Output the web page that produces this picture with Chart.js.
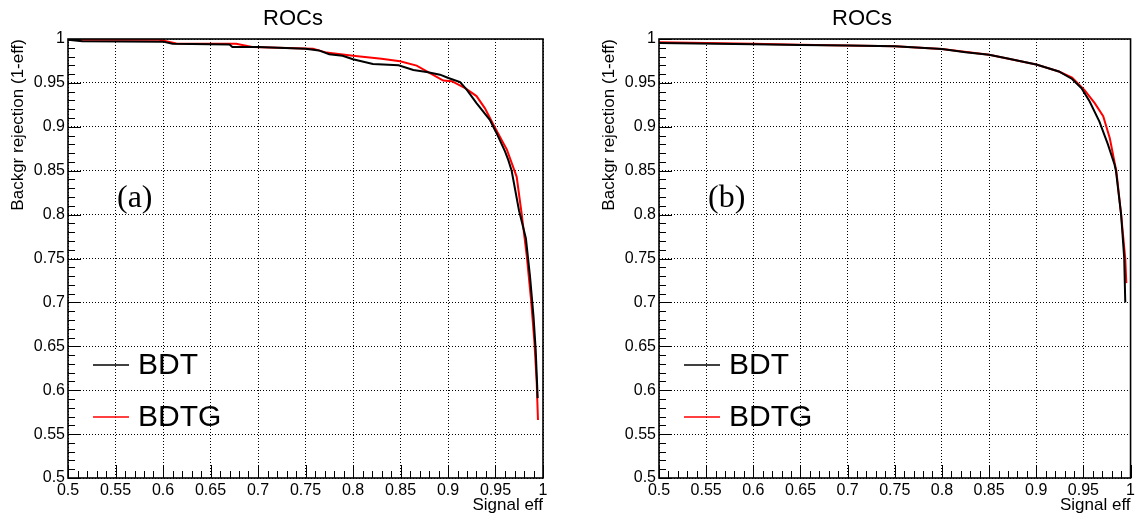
<!DOCTYPE html>
<html>
<head>
<meta charset="utf-8">
<script src="https://cdn.jsdelivr.net/npm/chart.js@4.4.1/dist/chart.umd.min.js"></script>
<style>
  body { margin: 0; background: #fff; }
  canvas { position: absolute; top: 0; }
</style>
</head>
<body>
<canvas id="rocA" width="569" height="519" style="left:0px"></canvas>
<canvas id="rocB" width="569" height="519" style="left:569px"></canvas>
<script>
// panel (a)
const effBdtA = [0.500, 0.515, 0.600, 0.610, 0.670, 0.673, 0.700, 0.750, 0.764, 0.775, 0.789, 0.800, 0.821, 0.848, 0.8635, 0.8776, 0.8916, 0.9004, 0.9127, 0.9197, 0.930, 0.944, 0.951, 0.960, 0.9635, 0.967, 0.9747, 0.982, 0.9863, 0.990, 0.9923, 0.9944];
const rejBdtA = [0.9992, 0.9975, 0.997, 0.9945, 0.9938, 0.991, 0.991, 0.989, 0.987, 0.9826, 0.981, 0.977, 0.9716, 0.970, 0.9647, 0.9624, 0.9594, 0.9556, 0.951, 0.9424, 0.927, 0.908, 0.893, 0.872, 0.862, 0.850, 0.805, 0.773, 0.730, 0.684, 0.646, 0.591];
const effBdtgA = [0.500, 0.596, 0.614, 0.677, 0.694, 0.758, 0.772, 0.800, 0.830, 0.8495, 0.867, 0.881, 0.895, 0.904, 0.918, 0.930, 0.9389, 0.9477, 0.958, 0.962, 0.967, 0.9723, 0.9775, 0.983, 0.9874, 0.991, 0.9934, 0.9947];
const rejBdtgA = [0.9992, 0.9992, 0.995, 0.9945, 0.991, 0.989, 0.9845, 0.981, 0.9775, 0.9746, 0.9697, 0.961, 0.9526, 0.952, 0.944, 0.935, 0.921, 0.9026, 0.8818, 0.874, 0.859, 0.843, 0.801, 0.752, 0.703, 0.654, 0.608, 0.566];

// panel (b)
const effBdtB = [0.500, 0.600, 0.650, 0.700, 0.750, 0.800, 0.825, 0.850, 0.871, 0.900, 0.924, 0.938, 0.948, 0.9565, 0.967, 0.976, 0.983, 0.9845, 0.990, 0.9933, 0.9944];
const rejBdtB = [0.9955, 0.994, 0.9932, 0.9925, 0.9917, 0.9886, 0.985, 0.982, 0.9776, 0.971, 0.963, 0.9545, 0.944, 0.929, 0.906, 0.880, 0.857, 0.850, 0.800, 0.750, 0.700];
const effBdtgB = [0.500, 0.600, 0.650, 0.700, 0.750, 0.800, 0.850, 0.900, 0.924, 0.938, 0.951, 0.962, 0.971, 0.978, 0.9835, 0.9849, 0.990, 0.9944, 0.9955];
const rejBdtgB = [0.9962, 0.9945, 0.9935, 0.9925, 0.9917, 0.9886, 0.982, 0.971, 0.963, 0.956, 0.942, 0.927, 0.912, 0.887, 0.857, 0.850, 0.800, 0.750, 0.722];

const seriesNames = ["BDT", "BDTG"];
const seriesColors = ["#000000", "#ff0000"];
const axisMin = 0.5, axisMax = 1.0, axisStep = 0.05;
const titleText = "ROCs";
const xTitle = "Signal eff";
const yTitle = "Backgr rejection (1-eff)";

function pairs(xs, ys) {
  return xs.map((v, i) => ({ x: v, y: ys[i] }));
}

function fmt(v) {
  return String(Number(v.toFixed(2)));
}

// ROOT-like frame, inward ticks, legend and panel tag
const rootDeco = {
  id: "rootDeco",
  afterDatasetsDraw(chart, args, o) {
    const ctx = chart.ctx;
    const a = chart.chartArea;
    const xs = chart.scales.x, ys = chart.scales.y;
    ctx.save();
    ctx.strokeStyle = "#000";
    ctx.lineWidth = 1;
    for (let i = 0; i <= 50; i++) {
      const v = axisMin + i * 0.01;
      const len = i % 5 === 0 ? 13 : 7;
      const px = Math.round(xs.getPixelForValue(v)) + 0.5;
      ctx.beginPath(); ctx.moveTo(px, a.bottom); ctx.lineTo(px, a.bottom - len); ctx.stroke();
      const py = Math.round(ys.getPixelForValue(v)) + 0.5;
      ctx.beginPath(); ctx.moveTo(a.left, py); ctx.lineTo(a.left + len, py); ctx.stroke();
    }
    ctx.lineWidth = 1.6;
    ctx.strokeRect(a.left, a.top, a.right - a.left, a.bottom - a.top);

    // legend
    ctx.font = "30px 'Liberation Sans', Arial, sans-serif";
    ctx.textBaseline = "middle";
    ctx.textAlign = "left";
    chart.data.datasets.forEach((ds, i) => {
      const yy = a.top + o.legendTop + i * o.legendGap;
      ctx.strokeStyle = ds.borderColor;
      ctx.lineWidth = 1.5;
      ctx.beginPath(); ctx.moveTo(a.left + 25, yy); ctx.lineTo(a.left + 61, yy); ctx.stroke();
      ctx.fillStyle = "#000";
      ctx.fillText(ds.label, a.left + 70, yy + 1);
    });

    // panel tag
    ctx.font = "32px 'Liberation Serif', 'Times New Roman', serif";
    ctx.fillText(o.tag, a.left + 49, a.top + 160);

    // title
    ctx.font = "22px 'Liberation Sans', Arial, sans-serif";
    ctx.textAlign = "center";
    ctx.fillText(titleText, o.titleX, 19);
    ctx.restore();
  }
};

function makeRoc(id, effs, rejs, tag, padLeft, padRight, titleX) {
  const data = {
    datasets: seriesNames.map((name, i) => ({
      label: name,
      data: pairs(effs[i], rejs[i]),
      borderColor: seriesColors[i],
      backgroundColor: seriesColors[i],
      borderWidth: 2,
      pointRadius: 0,
      showLine: true,
      tension: 0
    }))
  };

  const tickFont = { family: "'Liberation Sans', Arial, sans-serif", size: 16 };
  const titleFont = { family: "'Liberation Sans', Arial, sans-serif", size: 17 };

  const config = {
    type: "scatter",
    data: data,
    options: {
      responsive: false,
      animation: false,
      devicePixelRatio: 1,
      layout: { padding: { top: 39, left: padLeft, right: padRight, bottom: 0 } },
      plugins: {
        legend: { display: false },
        title: { display: false },
        tooltip: { enabled: false },
        rootDeco: { tag: tag, legendTop: 326, legendGap: 52, titleX: titleX }
      },
      scales: {
        x: {
          type: "linear",
          min: axisMin,
          max: axisMax,
          afterFit: (s) => { s.height = 41; },
          ticks: { stepSize: axisStep, autoSkip: false, maxRotation: 0, padding: 3, color: "#000", font: tickFont, callback: fmt },
          grid: { color: "#000", lineWidth: 1, drawTicks: false, borderDash: [1, 2] },
          border: { display: false, dash: [1, 2] },
          title: { display: true, text: xTitle, align: "end", color: "#000", font: titleFont, padding: { top: 0, bottom: 3 } }
        },
        y: {
          type: "linear",
          min: axisMin,
          max: axisMax,
          afterFit: (s) => { s.width = 68; },
          ticks: { stepSize: axisStep, autoSkip: false, padding: 3, color: "#000", font: tickFont, callback: fmt },
          grid: { color: "#000", lineWidth: 1, drawTicks: false, borderDash: [1, 2] },
          border: { display: false, dash: [1, 2] },
          title: { display: true, text: yTitle, align: "end", color: "#000", font: titleFont, padding: { top: 8, bottom: 0 } }
        }
      }
    },
    plugins: [rootDeco]
  };

  return new Chart(document.getElementById(id), config);
}

makeRoc("rocA", [effBdtA, effBdtgA], [rejBdtA, rejBdtgA], "(a)", 0, 26, 293);
makeRoc("rocB", [effBdtB, effBdtgB], [rejBdtB, rejBdtgB], "(b)", 22, 5, 293);
</script>
</body>
</html>
